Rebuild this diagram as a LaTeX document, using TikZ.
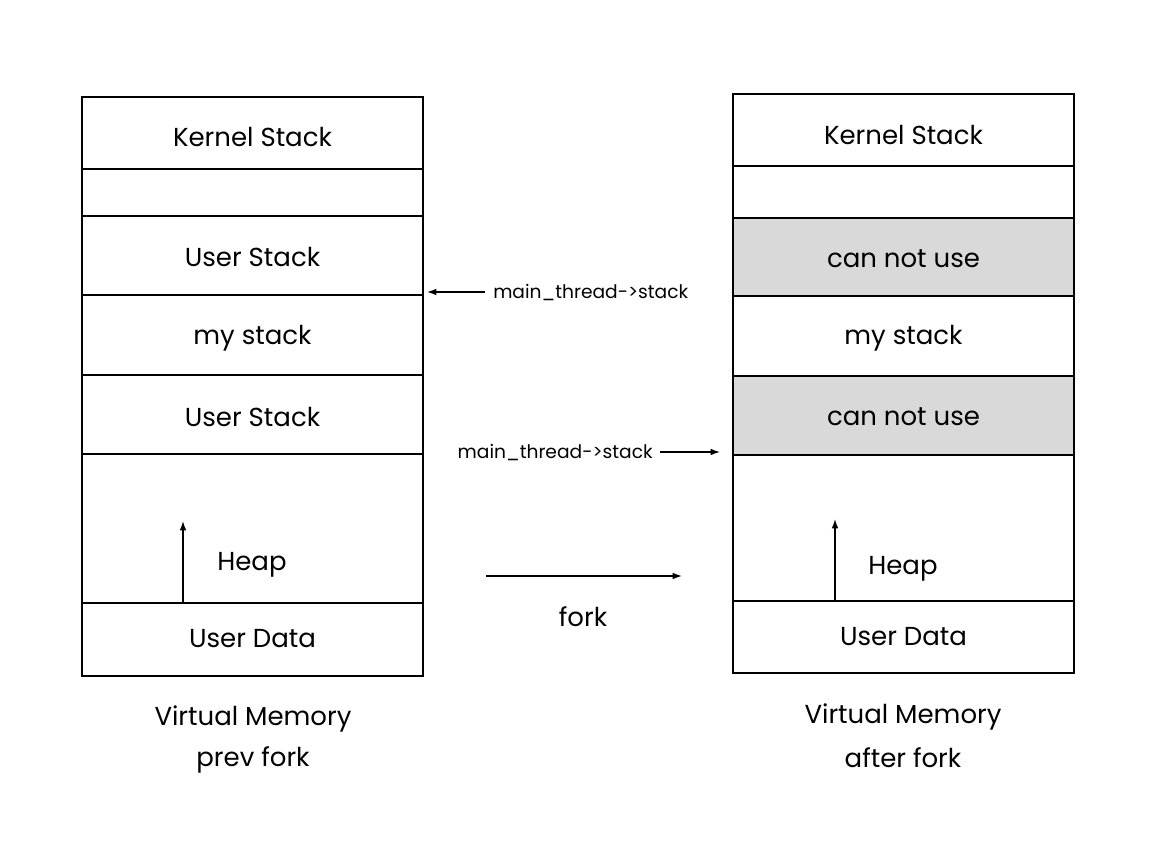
\documentclass[tikz,border=0pt]{standalone}
\usepackage{fontspec}
\setmainfont{Poppins}
\usetikzlibrary{arrows.meta}
\definecolor{grayfill}{RGB}{217,217,217}
\begin{document}
\begin{tikzpicture}[x=0.75pt,y=-0.75pt,
  cell/.style={draw=black,line width=1.2pt},
  lbl/.style={font=\fontsize{19.5}{22}\selectfont,inner sep=0pt,yshift=-1.5pt},
  small/.style={font=\fontsize{14}{16}\selectfont,inner sep=0pt},
  arr/.style={-{Latex[length=7pt,width=5pt]},line width=1pt}]
\useasboundingbox (0,0) rectangle (1158,866);
% left column
\draw[cell] (82,97) rectangle (423,169);
\draw[cell] (82,169) rectangle (423,216);
\draw[cell] (82,216) rectangle (423,295);
\draw[cell] (82,295) rectangle (423,375);
\draw[cell] (82,375) rectangle (423,454);
\draw[cell] (82,454) rectangle (423,603);
\draw[cell] (82,603) rectangle (423,676);
\draw[line width=2.2pt] (82,295) -- (423,295);
\node[lbl] (lk) at (252.5,135) {Kernel Stack};
\node[lbl] (lus1) at (252.5,255) {User Stack};
\node[lbl] (lms) at (252.5,336) {my stack};
\node[lbl] (lus2) at (252.5,415) {User Stack};
\node[lbl] (lheap) at (252,563) {Heap};
\node[lbl] (lud) at (252.5,637) {User Data};
\coordinate (lh0) at (183,603);
\coordinate (lh1) at (183,521);
\draw[arr] (lh0) -- (lh1);
\node[lbl] (lc1) at (253,717) {Virtual Memory};
\node[lbl] (lc2) at (253,758) {prev fork};
% right column
\draw[cell] (733,94) rectangle (1074,166);
\draw[cell] (733,166) rectangle (1074,218);
\draw[cell,fill=grayfill] (733,218) rectangle (1074,296);
\draw[cell] (733,296) rectangle (1074,376);
\draw[cell,fill=grayfill] (733,376) rectangle (1074,455);
\draw[cell] (733,455) rectangle (1074,601);
\draw[cell] (733,601) rectangle (1074,673);
\node[lbl] (rk) at (903.5,133) {Kernel Stack};
\node[lbl] (rc1) at (903.5,257) {can not use};
\node[lbl] (rms) at (903.5,336) {my stack};
\node[lbl] (rc2) at (903.5,415) {can not use};
\node[lbl] (rheap) at (903,567) {Heap};
\node[lbl] (rud) at (903.5,635) {User Data};
\coordinate (rh0) at (835,601);
\coordinate (rh1) at (835,519);
\draw[arr] (rh0) -- (rh1);
\node[lbl] (rcap1) at (903,715) {Virtual Memory};
\node[lbl] (rcap2) at (903,756) {after fork};
% middle
\node[small,anchor=west] (t1) at (493,293) {main\_thread->stack};
\coordinate (a1) at (427,292);
\draw[arr] (485,292) -- (a1);
\node[small,anchor=east] (t2) at (653,453) {main\_thread->stack};
\coordinate (a2) at (720,452);
\draw[arr] (660,452) -- (a2);
\coordinate (f0) at (486,576);
\coordinate (f1) at (682,576);
\draw[arr] (f0) -- (f1);
\node[lbl] (fork) at (583,615) {fork};
\end{tikzpicture}
\end{document}
